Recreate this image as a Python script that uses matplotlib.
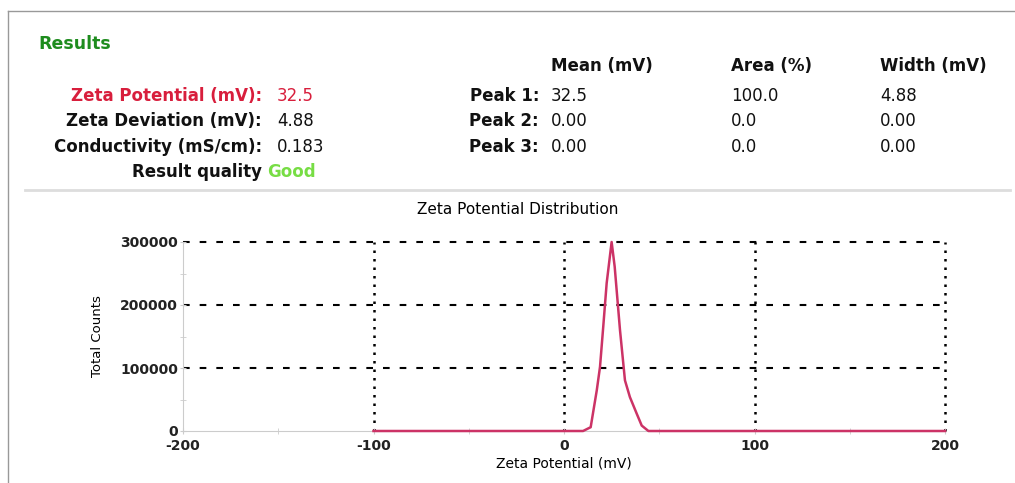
import matplotlib
matplotlib.use('Agg')
import matplotlib.pyplot as plt
from matplotlib.lines import Line2D
from matplotlib.ticker import MultipleLocator
from matplotlib import font_manager

plt.rcParams['font.family'] = ['DejaVu Sans']
plt.rcParams['axes.unicode_minus'] = False

# distribution
zeta_mv = [-100, 0, 10, 14, 17.2, 18.9, 20.6, 22.4, 25, 26.6, 29.4, 32, 34.6, 38.2, 40.8, 44.3, 100, 200]
counts = [0, 0, 0, 6000, 64500, 101700, 165500, 234800, 300000, 261000, 160000, 80400, 53800, 27300, 8600, 0, 0, 0]

row_labels = ['Zeta Potential (mV):', 'Zeta Deviation (mV):', 'Conductivity (mS/cm):']
row_values = ['32.5', '4.88', '0.183']
peak_names = ['Peak 1:', 'Peak 2:', 'Peak 3:']
col_heads = ['Mean (mV)', 'Area (%)', 'Width (mV)']
peak_mean = ['32.5', '0.00', '0.00']
peak_area = ['100.0', '0.0', '0.0']
peak_width = ['4.88', '0.00', '0.00']

W, H = 1015, 483
fig = plt.figure(figsize=(W / 100, H / 100), dpi=100)


def P(x, y):
    return x / W, 1 - y / H


def txt(x, y, s, **kw):
    kw.setdefault('fontsize', 12)
    kw.setdefault('fontweight', 'bold')
    kw.setdefault('va', 'center')
    fig.text(*P(x, y), s, **kw)


# frame lines
fig.add_artist(Line2D([8 / W, 1], [1 - 11 / H] * 2, color='#999999', lw=1))
fig.add_artist(Line2D([8 / W] * 2, [0, 1 - 11 / H], color='#999999', lw=1))
fig.add_artist(Line2D([25 / W, 1010 / W], [1 - 190 / H] * 2, color='#dddddd', lw=2))

txt(38, 44, 'Results', color='#1e8c1e', fontsize=12.5)
red = '#d81e3c'
for i, (lab, val) in enumerate(zip(row_labels, row_values)):
    y = 96 + i * 25.5
    c = red if i == 0 else '#111111'
    txt(262, y, lab, ha='right', color=c)
    txt(277, y, val, ha='left', color=c, fontweight='normal')
txt(262, 172, 'Result quality', ha='right', color='#111111')
txt(267, 172, 'Good', ha='left', color='#77dd44')

col_x = [551, 731, 880]
for cx, h in zip(col_x, col_heads):
    txt(cx, 66, h, ha='left', color='#111111')
for i, name in enumerate(peak_names):
    y = 96 + i * 25.5
    txt(539, y, name, ha='right', color='#111111')
    for cx, v in zip(col_x, [peak_mean[i], peak_area[i], peak_width[i]]):
        txt(cx, y, v, ha='left', color='#111111', fontweight='normal')

fig.text(*P(518, 209), 'Zeta Potential Distribution', ha='center', va='center', fontsize=11)

ax = fig.add_axes([183 / W, 1 - 431 / H, (945 - 183) / W, (431 - 242) / H])
ax.plot(zeta_mv, counts, color='#cc3366', lw=1.8, zorder=3, clip_on=False)
ax.set_xlim(-200, 200)
ax.set_ylim(0, 300000)
ax.set_xticks([-200, -100, 0, 100, 200])
ax.set_yticks([0, 100000, 200000, 300000])
ax.xaxis.set_minor_locator(MultipleLocator(50))
ax.yaxis.set_minor_locator(MultipleLocator(50000))
for s in ['top', 'right']:
    ax.spines[s].set_visible(False)
for s in ['left', 'bottom']:
    ax.spines[s].set_color('#cccccc')
ax.tick_params(which='both', direction='inout', color='#cccccc', length=5)
ax.tick_params(axis='y', labelsize=10, pad=1)
ax.tick_params(axis='x', labelsize=10, pad=3)
for lab in ax.get_xticklabels() + ax.get_yticklabels():
    lab.set_fontweight('bold')
    lab.set_color('#222222')
for yv in [100000, 200000, 300000]:
    ax.axhline(yv, color='black', lw=1.5, ls=(0, (3.2, 4.8)), zorder=1, clip_on=False)
for xv in [-100, 0, 100, 200]:
    ax.axvline(xv, color='black', lw=1.8, ls=(0, (1, 2.4)), zorder=1, clip_on=False)
ax.set_xlabel('Zeta Potential (mV)', fontsize=10, labelpad=3)

narrow = 'DejaVu Sans'
for fam in ['Liberation Sans Narrow', 'DejaVu Sans Condensed']:
    try:
        font_manager.findfont(font_manager.FontProperties(family=fam), fallback_to_default=False)
        narrow = fam
        break
    except Exception:
        pass
ax.set_ylabel('Total Counts', fontsize=9.5, family=[narrow, 'DejaVu Sans'], labelpad=12)

fig.savefig('out.png', dpi=100)
